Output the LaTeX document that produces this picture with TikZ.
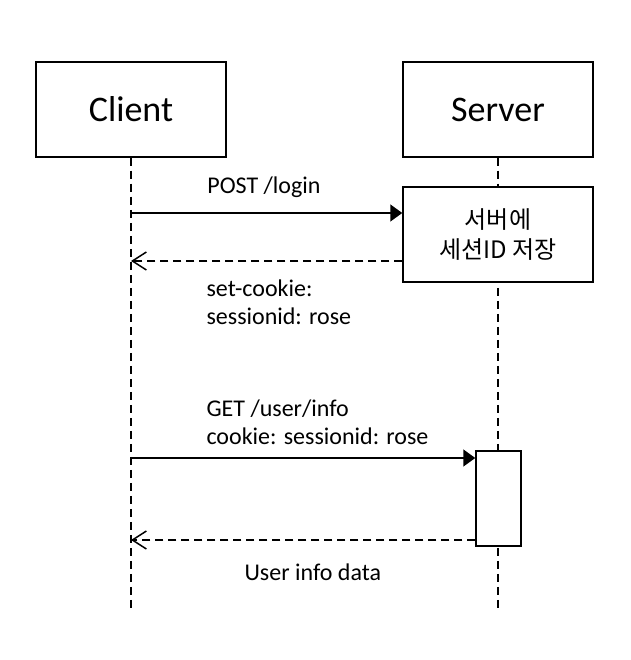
\documentclass[tikz,border=0pt]{standalone}
\usepackage{fontspec}
\setmainfont{Carlito}
\newfontfamily\krfont{Noto Sans CJK KR}
\usetikzlibrary{arrows.meta}

\begin{document}
\begin{tikzpicture}[x=1pt, y=-1pt,
  % boxes at the top of each lifeline (and the server's note box)
  actor/.style={draw=black, line width=1.5pt, fill=white, minimum width=190pt, minimum height=95pt, font=\fontsize{36}{40}\selectfont},
  % dashed vertical line below each actor
  lifeline/.style={draw=black, line width=1.5pt, dash pattern=on 8pt off 5pt},
  % request = solid line with a filled head, reply = dashed line with an open head
  call/.style={draw=black, line width=1.5pt, -{Triangle[length=12pt,width=17pt]}},
  reply/.style={draw=black, line width=1.5pt, dash pattern=on 8pt off 5pt, -{Straight Barb[length=14pt,width=18pt]}},
  msgtext/.style={draw=none, font=\fontsize{24}{28}\selectfont, align=left}]

% fixes the size of the page
\useasboundingbox (0,0) rectangle (630,660);

% Actors and their lifelines
\node[actor] (client) at (131,109.5) {Client};
\node[actor] (server) at (498,109.5) {Server};
\coordinate (clientend) at (131,610);
\draw[lifeline] (client.south) -- (clientend);
\draw[lifeline] (server.south) -- (server.south |- clientend);

% Server stores the session
\node[actor, font=\krfont\fontsize{24}{30}\selectfont, align=center] (store) at (498,234.5) {서버에\\세션ID 저장};

% Activation box for the second request
\node[draw=black, line width=1.5pt, fill=white, minimum width=45pt, minimum height=95pt] (active) at (498.5,498.5) {};

% Points where the messages meet the boxes
\coordinate (post) at ([yshift=21.5pt]store.west);
\coordinate (setcookie) at ([yshift=-26.5pt]store.west);
\coordinate (get) at ([yshift=40.5pt]active.west);
\coordinate (userdata) at ([yshift=-41.5pt]active.west);

% Messages
\draw[call] (client.south |- post) -- (post);
\draw[reply] (setcookie) -- (client.south |- setcookie);
\draw[call] (client.south |- get) -- (get);
\draw[reply] (userdata) -- (client.south |- userdata);

% Message labels
\node[msgtext] (postlabel) at (264,187) {POST /login};
\node[msgtext, anchor=north west] (cookielabel) at (203,276) {set-cookie:\\sessionid: rose};
\node[msgtext, anchor=north west] (getlabel) at (203,396) {GET /user/info\\cookie: sessionid: rose};
\node[msgtext, anchor=west] (datalabel) at (241,572) {User info data};
\end{tikzpicture}
\end{document}
